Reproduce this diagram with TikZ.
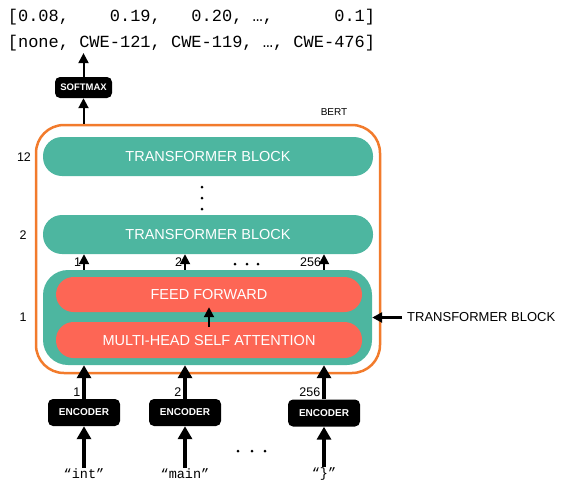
\documentclass[tikz,border=0pt]{standalone}
\usepackage{fontspec}
\setmainfont{Liberation Sans}
\setmonofont{Liberation Mono}
\usepackage{xcolor}
\usepackage{tikz}
\usetikzlibrary{arrows.meta}
\definecolor{bertteal}{HTML}{4DB6A0}
\definecolor{bertred}{HTML}{FD6655}
\definecolor{bertorange}{HTML}{F27B2C}
\tikzset{ t_block/.style = {rectangle, rounded corners=19pt, fill=bertteal, text=white, minimum width=330pt, minimum height=39pt, inner sep=0pt, font=\fontsize{14.5}{16}\selectfont} }
\tikzset{ sub_layer/.style = {rectangle, rounded corners=17.5pt, fill=bertred, text=white, minimum width=306pt, minimum height=36pt, inner sep=0pt, font=\fontsize{14.5}{16}\selectfont} }
\tikzset{ black_box/.style = {rectangle, rounded corners=5pt, fill=black, text=white, inner sep=0pt, font=\bfseries\fontsize{10}{12}\selectfont} }
\tikzset{ num_lbl/.style = {inner sep=1pt, font=\fontsize{12.5}{14}\selectfont} }
\tikzset{ token/.style = {inner sep=1pt, font=\ttfamily\fontsize{13.5}{15}\selectfont} }
\tikzset{ out_line/.style = {inner sep=2pt, font=\ttfamily\fontsize{17}{19}\selectfont} }
\tikzset{ thin_arr/.style = {line width=2pt, -{Triangle[width=10pt,length=10pt]}} }
\tikzset{ thick_arr/.style = {line width=3.5pt, -{Triangle[width=14pt,length=13pt]}} }

\begin{document}
\begin{tikzpicture}[x=1pt,y=-1pt]
    \useasboundingbox (0,0) rectangle (562,483);
    % outputs
    \node [style=out_line] (p) at (191.5,17) {[0.08,~~~~0.19,~~~0.20,~…,~~~~~~0.1]};
    \node [style=out_line] (c) at (191.5,43) {[none,~CWE-121,~CWE-119,~…,~CWE-476]};
    \node [style=black_box, minimum width=57pt, minimum height=21pt, font=\bfseries\fontsize{9.5}{11}\selectfont] (sm) at (83.5,87.5) {SOFTMAX};

    % bert
    \node [draw=bertorange, line width=2.5pt, rounded corners=28pt, minimum width=344pt, minimum height=248pt, inner sep=0pt] (bert) at (208,249) {};
    \node [font=\fontsize{10}{12}\selectfont] (bert_lbl) at (334,112) {BERT};
    \node [style=t_block] (b12) at (208,156.5) {TRANSFORMER BLOCK};
    \node [style=t_block] (b2) at (208,234.5) {TRANSFORMER BLOCK};
    \node [style=t_block, minimum width=329pt, minimum height=95pt, rounded corners=25pt] (b1) at (207.5,317.5) {};
    \node [style=sub_layer, minimum height=35pt] (ff) at (209,294.5) {FEED FORWARD};
    \node [style=sub_layer] (mhsa) at (209,340) {MULTI-HEAD SELF ATTENTION};
    \node [style=num_lbl] (n12) at (24,157) {12};
    \node [style=num_lbl] (n2) at (23,235) {2};
    \node [style=num_lbl] (n1) at (23,317) {1};
    \foreach \y in {187,198,209} \fill (202,\y) circle (1.5pt);
    \foreach \x in {235,247,258} \fill (\x,264) circle (1.5pt);

    % side label
    \node [font=\fontsize{13}{14}\selectfont, anchor=west, inner sep=0pt] (tb) at (407,317.5) {TRANSFORMER BLOCK};
    \draw [style=thin_arr, line width=2.5pt, shorten <=5pt] (tb.west) -- (b1.east);

    % inputs
    \node [style=black_box, minimum width=72pt, minimum height=27pt] (e1) at (84,412.5) {ENCODER};
    \node [style=black_box, minimum width=72pt, minimum height=27pt] (e2) at (185,412.5) {ENCODER};
    \node [style=black_box, minimum width=72pt, minimum height=27pt] (e3) at (324,413) {ENCODER};
    \node [style=token] (t1) at (84,474) {“int”};
    \node [style=token] (t2) at (185,474) {“main”};
    \node [style=token] (t3) at (324,474) {“\}”};
    \foreach \x in {238,252,265} \fill (\x,451) circle (1.5pt);

    \draw [style=thin_arr] (sm |- bert.north) -- (sm.south);
    \draw [style=thin_arr] (sm.north) -- (sm |- c.south);
    \draw [style=thin_arr, shorten <=-5pt, shorten >=-5pt] (mhsa.north) -- (ff.south);
    \draw [style=thin_arr] (e1 |- b1.north) -- node[style=num_lbl, left=1pt] {1} (e1 |- b2.south);
    \draw [style=thin_arr] (e2 |- b1.north) -- node[style=num_lbl, left=1pt] {2} (e2 |- b2.south);
    \draw [style=thin_arr] (e3 |- b1.north) -- node[style=num_lbl, left=1pt] {256} (e3 |- b2.south);
    \draw [style=thick_arr] (e1.north) -- node[style=num_lbl, pos=0.2, left=1pt] {1} (e1 |- b1.south);
    \draw [style=thick_arr] (e2.north) -- node[style=num_lbl, pos=0.2, left=1pt] {2} (e2 |- b1.south);
    \draw [style=thick_arr] (e3.north) -- node[style=num_lbl, pos=0.2, left=1pt] {256} (e3 |- b1.south);
    \draw [style=thick_arr] (t1.north) -- (e1.south);
    \draw [style=thick_arr] (t2.north) -- (e2.south);
    \draw [style=thick_arr] (t3.north) -- (e3.south);
\end{tikzpicture}
\end{document}
